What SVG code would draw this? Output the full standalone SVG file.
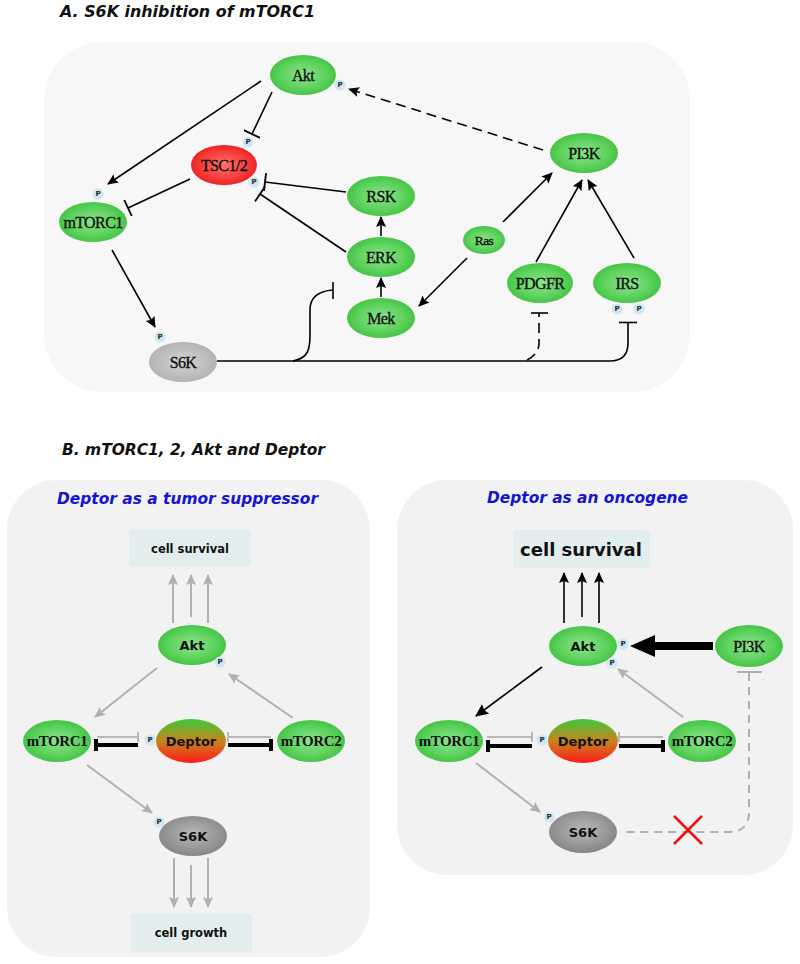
<svg xmlns="http://www.w3.org/2000/svg" width="800" height="964" viewBox="0 0 800 964">
<defs>
<radialGradient id="gGreen" cx="50%" cy="50%" r="55%">
<stop offset="0" stop-color="#8ce48c"/><stop offset="0.6" stop-color="#5fd35f"/><stop offset="1" stop-color="#3fc03f"/>
</radialGradient>
<radialGradient id="gRed" cx="50%" cy="50%" r="55%">
<stop offset="0" stop-color="#ff7070"/><stop offset="0.6" stop-color="#f84040"/><stop offset="1" stop-color="#e81c1c"/>
</radialGradient>
<radialGradient id="gGrayA" cx="50%" cy="50%" r="55%">
<stop offset="0" stop-color="#d4d4d4"/><stop offset="1" stop-color="#b0b0b0"/>
</radialGradient>
<radialGradient id="gGrayB" cx="50%" cy="45%" r="55%">
<stop offset="0" stop-color="#b8b8b8"/><stop offset="1" stop-color="#868686"/>
</radialGradient>
<linearGradient id="gDeptor" x1="0" y1="0" x2="0" y2="1">
<stop offset="0" stop-color="#3cc83c"/><stop offset="0.5" stop-color="#c8841c"/><stop offset="1" stop-color="#ff1a1a"/>
</linearGradient>
<marker id="aB" markerUnits="userSpaceOnUse" markerWidth="11" markerHeight="10" refX="10" refY="5" orient="auto">
<path d="M0,0 L11,5 L0,10 L2,5 z" fill="#000"/>
</marker>
<marker id="aG" markerUnits="userSpaceOnUse" markerWidth="11" markerHeight="10" refX="10" refY="5" orient="auto">
<path d="M0,0 L11,5 L0,10 L2,5 z" fill="#b0b0b0"/>
</marker>
<marker id="aBB" markerUnits="userSpaceOnUse" markerWidth="13" markerHeight="12" refX="12" refY="6" orient="auto">
<path d="M0,0 L13,6 L0,12 L2,6 z" fill="#000"/>
</marker>
<marker id="tB" markerUnits="userSpaceOnUse" markerWidth="4" markerHeight="18" refX="2" refY="9" orient="auto">
<path d="M2,0 L2,18" stroke="#000" stroke-width="1.8"/>
</marker>
</defs>
<style>
.title{font-family:"DejaVu Sans",sans-serif;font-weight:bold;font-style:italic;font-size:16px;fill:#111}
.sub{font-family:"DejaVu Sans",sans-serif;font-weight:bold;font-style:italic;font-size:15px;fill:#1414d2}
.lA{font-family:"Liberation Serif",serif;font-size:16px;letter-spacing:-0.6px;fill:#111;stroke:#111;stroke-width:0.35;text-anchor:middle;dominant-baseline:central}
.lBs{font-family:"DejaVu Sans",sans-serif;font-weight:bold;font-size:13px;fill:#111;text-anchor:middle;dominant-baseline:central}
.lBm{font-family:"Liberation Serif",serif;font-weight:bold;font-size:15px;letter-spacing:-0.4px;fill:#111;text-anchor:middle;dominant-baseline:central}
.pc{fill:#cfe7ef}
.pt{font-family:"DejaVu Sans",sans-serif;font-weight:bold;font-size:7px;fill:#1a2a3a;text-anchor:middle;dominant-baseline:central}
.box{fill:#e2eeee}
.bl{stroke:#000;stroke-width:1.6;fill:none}
.gr{stroke:#b0b0b0;stroke-width:2;fill:none}
.grt{stroke:#b8b8b8;stroke-width:2;fill:none}
.bk{stroke:#000;stroke-width:4;fill:none}
</style>

<!-- Panel A -->
<text class="title" x="60" y="17" textLength="255" lengthAdjust="spacingAndGlyphs">A. S6K inhibition of mTORC1</text>
<rect x="44" y="42" width="646" height="350" rx="58" fill="#f7f7f7"/>

<g id="connectorsA">
<line class="bl" x1="261" y1="81" x2="108" y2="184" marker-end="url(#aB)"/>
<line class="bl" x1="272" y1="92" x2="252" y2="134" marker-end="url(#tB)"/>
<line class="bl" x1="543" y1="150" x2="349" y2="89" stroke-dasharray="10,6" marker-end="url(#aB)"/>
<line class="bl" x1="190" y1="179" x2="128" y2="208" marker-end="url(#tB)"/>
<line class="bl" x1="346" y1="192" x2="265" y2="182" marker-end="url(#tB)"/>
<line class="bl" x1="346" y1="252" x2="260" y2="194" marker-end="url(#tB)"/>
<line class="bl" x1="381" y1="297" x2="381" y2="278" marker-end="url(#aB)"/>
<line class="bl" x1="381" y1="236" x2="381" y2="217" marker-end="url(#aB)"/>
<line class="bl" x1="467" y1="258" x2="419" y2="306" marker-end="url(#aB)"/>
<line class="bl" x1="503" y1="222" x2="552" y2="173" marker-end="url(#aB)"/>
<line class="bl" x1="536" y1="262" x2="582" y2="180" marker-end="url(#aB)"/>
<line class="bl" x1="634" y1="258" x2="588" y2="180" marker-end="url(#aB)"/>
<line class="bl" x1="112" y1="250" x2="155" y2="327" marker-end="url(#aB)"/>
<path class="bl" d="M217,361 L610,361 Q628,361 628,343 L628,323"/>
<line class="bl" x1="619" y1="322.5" x2="637" y2="322.5" stroke-width="2"/>
<path class="bl" d="M293,361 C308,358 310,350 310,335 L310,310 C310,298 318,291 333,290"/>
<line class="bl" x1="333" y1="282" x2="333" y2="299" stroke-width="2"/>
<path class="bl" d="M527,360 Q539,354 539,343 L539,313" stroke-dasharray="10,6"/>
<line class="bl" x1="531" y1="313" x2="548" y2="313" stroke-width="2"/>
</g>

<g id="Akt_A"><ellipse cx="303" cy="75" rx="33" ry="20" fill="url(#gGreen)"/><text class="lA" x="303" y="75">Akt</text>
<circle class="pc" cx="340" cy="85" r="5.5"/><text class="pt" x="340" y="85">P</text></g>
<g id="TSC_A"><ellipse cx="224" cy="165" rx="33" ry="20" fill="url(#gRed)"/><text class="lA" x="224" y="165">TSC1/2</text>
<circle class="pc" cx="248" cy="142" r="5.5"/><text class="pt" x="248" y="142">P</text>
<circle class="pc" cx="254" cy="182" r="5.5"/><text class="pt" x="254" y="182">P</text></g>
<g id="mTORC1_A"><ellipse cx="93" cy="222" rx="34" ry="20" fill="url(#gGreen)"/><text class="lA" x="93" y="222">mTORC1</text>
<circle class="pc" cx="98" cy="194" r="5.5"/><text class="pt" x="98" y="194">P</text></g>
<g id="RSK_A"><ellipse cx="381" cy="196" rx="34" ry="20" fill="url(#gGreen)"/><text class="lA" x="381" y="196">RSK</text></g>
<g id="ERK_A"><ellipse cx="381" cy="257" rx="34" ry="20" fill="url(#gGreen)"/><text class="lA" x="381" y="257">ERK</text></g>
<g id="Mek_A"><ellipse cx="381" cy="318" rx="34" ry="20" fill="url(#gGreen)"/><text class="lA" x="381" y="318">Mek</text></g>
<g id="PI3K_A"><ellipse cx="584" cy="153" rx="34" ry="20" fill="url(#gGreen)"/><text class="lA" x="584" y="153">PI3K</text></g>
<g id="Ras_A"><ellipse cx="484" cy="240" rx="21" ry="14" fill="url(#gGreen)"/><text class="lA" x="484" y="240" style="font-size:13.5px">Ras</text></g>
<g id="PDGFR_A"><ellipse cx="540" cy="283" rx="33" ry="20" fill="url(#gGreen)"/><text class="lA" x="540" y="283">PDGFR</text></g>
<g id="IRS_A"><ellipse cx="627" cy="283" rx="34" ry="20" fill="url(#gGreen)"/><text class="lA" x="627" y="283">IRS</text>
<circle class="pc" cx="617" cy="309" r="5.5"/><text class="pt" x="617" y="309">P</text>
<circle class="pc" cx="639" cy="309" r="5.5"/><text class="pt" x="639" y="309">P</text></g>
<g id="S6K_A"><ellipse cx="183" cy="362" rx="34" ry="20" fill="url(#gGrayA)"/><text class="lA" x="183" y="362">S6K</text>
<circle class="pc" cx="160" cy="337" r="5.5"/><text class="pt" x="160" y="337">P</text></g>

<!-- Panel B -->
<text class="title" x="62" y="455" textLength="263" lengthAdjust="spacingAndGlyphs">B. mTORC1, 2, Akt and Deptor</text>
<rect x="7" y="480" width="363" height="477" rx="50" fill="#f2f2f2"/>
<rect x="397" y="480" width="396" height="395" rx="50" fill="#f2f2f2"/>
<text class="sub" x="57" y="504" textLength="261" lengthAdjust="spacingAndGlyphs">Deptor as a tumor suppressor</text>
<text class="sub" x="487" y="503" textLength="201" lengthAdjust="spacingAndGlyphs">Deptor as an oncogene</text>

<g id="connectorsB">
<!-- left -->
<line class="gr" x1="173" y1="623" x2="173" y2="575" marker-end="url(#aG)"/>
<line class="gr" x1="191" y1="617" x2="191" y2="575" marker-end="url(#aG)"/>
<line class="gr" x1="208" y1="623" x2="208" y2="575" marker-end="url(#aG)"/>
<line class="gr" x1="157" y1="668" x2="95" y2="717" marker-end="url(#aG)"/>
<line class="gr" x1="293" y1="718" x2="229" y2="674" marker-end="url(#aG)"/>
<line class="gr" x1="87" y1="765" x2="152" y2="813" marker-end="url(#aG)"/>
<line class="gr" x1="174" y1="858" x2="174" y2="907" marker-end="url(#aG)"/>
<line class="gr" x1="191" y1="865" x2="191" y2="907" marker-end="url(#aG)"/>
<line class="gr" x1="208" y1="858" x2="208" y2="907" marker-end="url(#aG)"/>
<line class="grt" x1="97" y1="737" x2="138" y2="737"/>
<line class="grt" x1="138" y1="732" x2="138" y2="742"/>
<line class="bk" x1="138" y1="745" x2="96" y2="745"/>
<line class="bk" x1="96" y1="739" x2="96" y2="751" stroke-width="3"/>
<line class="grt" x1="271" y1="737" x2="228" y2="737"/>
<line class="grt" x1="228" y1="732" x2="228" y2="742"/>
<line class="bk" x1="228" y1="745" x2="271" y2="745"/>
<line class="bk" x1="271" y1="739" x2="271" y2="751" stroke-width="3"/>
<!-- right -->
<line class="bl" stroke-width="3" x1="564" y1="623" x2="564" y2="573" marker-end="url(#aB)"/>
<line class="bl" stroke-width="3" x1="582" y1="617" x2="582" y2="573" marker-end="url(#aB)"/>
<line class="bl" stroke-width="3" x1="599" y1="623" x2="599" y2="573" marker-end="url(#aB)"/>
<line x1="713" y1="646" x2="650" y2="646" stroke="#000" stroke-width="8"/>
<polygon points="630,646 655,635 655,657" fill="#000"/>
<line class="bl" stroke-width="3" x1="542" y1="667" x2="476" y2="716" marker-end="url(#aBB)"/>
<line class="gr" x1="683" y1="717" x2="618" y2="669" marker-end="url(#aG)"/>
<line class="gr" x1="476" y1="763" x2="540" y2="812" marker-end="url(#aG)"/>
<line class="grt" x1="487" y1="737" x2="532" y2="737"/>
<line class="grt" x1="532" y1="732" x2="532" y2="742"/>
<line class="bk" x1="532" y1="746" x2="488" y2="746"/>
<line class="bk" x1="488" y1="740" x2="488" y2="752" stroke-width="3"/>
<line class="grt" x1="663" y1="737" x2="619" y2="737"/>
<line class="grt" x1="619" y1="732" x2="619" y2="742"/>
<line class="bk" x1="619" y1="746" x2="663" y2="746"/>
<line class="bk" x1="663" y1="740" x2="663" y2="752" stroke-width="3"/>
<line class="gr" x1="737" y1="672" x2="762" y2="672"/>
<path class="gr" d="M749,673 L749,812 Q749,832 729,832 L620,832" stroke-dasharray="8,6"/>
<line x1="674" y1="816" x2="702" y2="844" stroke="#ee1111" stroke-width="2.5"/>
<line x1="702" y1="816" x2="674" y2="844" stroke="#ee1111" stroke-width="2.5"/>
</g>

<g id="survival_L"><rect class="box" x="129" y="529" width="122" height="38" rx="4"/>
<text x="190" y="549" style="font-family:'DejaVu Sans',sans-serif;font-weight:bold;font-size:11.5px;fill:#111;text-anchor:middle;dominant-baseline:central">cell survival</text></g>
<g id="growth_L"><rect class="box" x="131" y="913" width="121" height="39" rx="4"/>
<text x="191" y="933" style="font-family:'DejaVu Sans',sans-serif;font-weight:bold;font-size:11.5px;fill:#111;text-anchor:middle;dominant-baseline:central">cell growth</text></g>
<g id="Akt_L"><ellipse cx="192" cy="645" rx="34" ry="20" fill="url(#gGreen)"/><text class="lBs" x="192" y="645">Akt</text>
<circle class="pc" cx="220" cy="662" r="5.5"/><text class="pt" x="220" y="662">P</text></g>
<g id="mTORC1_L"><ellipse cx="57" cy="741" rx="34" ry="21" fill="url(#gGreen)"/><text class="lBm" x="57" y="741">mTORC1</text></g>
<g id="Deptor_L"><ellipse cx="191" cy="741" rx="35" ry="22" fill="url(#gDeptor)"/><text class="lBs" x="191" y="741">Deptor</text>
<circle class="pc" cx="150" cy="740" r="5.5"/><text class="pt" x="150" y="740">P</text></g>
<g id="mTORC2_L"><ellipse cx="311" cy="741" rx="34" ry="21" fill="url(#gGreen)"/><text class="lBm" x="311" y="741">mTORC2</text></g>
<g id="S6K_L"><ellipse cx="193" cy="836" rx="34" ry="20" fill="url(#gGrayB)"/><text class="lBs" x="193" y="836">S6K</text>
<circle class="pc" cx="159" cy="822" r="5.5"/><text class="pt" x="159" y="822">P</text></g>

<g id="survival_R"><rect class="box" x="513" y="530" width="137" height="38" rx="4"/>
<text x="581" y="549" style="font-family:'DejaVu Sans',sans-serif;font-weight:bold;font-size:18px;fill:#111;text-anchor:middle;dominant-baseline:central">cell survival</text></g>
<g id="Akt_R"><ellipse cx="583" cy="646" rx="34" ry="20" fill="url(#gGreen)"/><text class="lBs" x="583" y="646">Akt</text>
<circle class="pc" cx="623" cy="644" r="5.5"/><text class="pt" x="623" y="644">P</text>
<circle class="pc" cx="612" cy="663" r="5.5"/><text class="pt" x="612" y="663">P</text></g>
<g id="PI3K_R"><ellipse cx="749" cy="646" rx="34" ry="21" fill="url(#gGreen)"/><text class="lA" x="749" y="646">PI3K</text></g>
<g id="mTORC1_R"><ellipse cx="449" cy="741" rx="34" ry="21" fill="url(#gGreen)"/><text class="lBm" x="449" y="741">mTORC1</text></g>
<g id="Deptor_R"><ellipse cx="583" cy="741" rx="35" ry="22" fill="url(#gDeptor)"/><text class="lBs" x="583" y="741">Deptor</text>
<circle class="pc" cx="542" cy="740" r="5.5"/><text class="pt" x="542" y="740">P</text></g>
<g id="mTORC2_R"><ellipse cx="702" cy="741" rx="34" ry="21" fill="url(#gGreen)"/><text class="lBm" x="702" y="741">mTORC2</text></g>
<g id="S6K_R"><ellipse cx="583" cy="832" rx="34" ry="21" fill="url(#gGrayB)"/><text class="lBs" x="583" y="832">S6K</text>
<circle class="pc" cx="549" cy="817" r="5.5"/><text class="pt" x="549" y="817">P</text></g>
</svg>
